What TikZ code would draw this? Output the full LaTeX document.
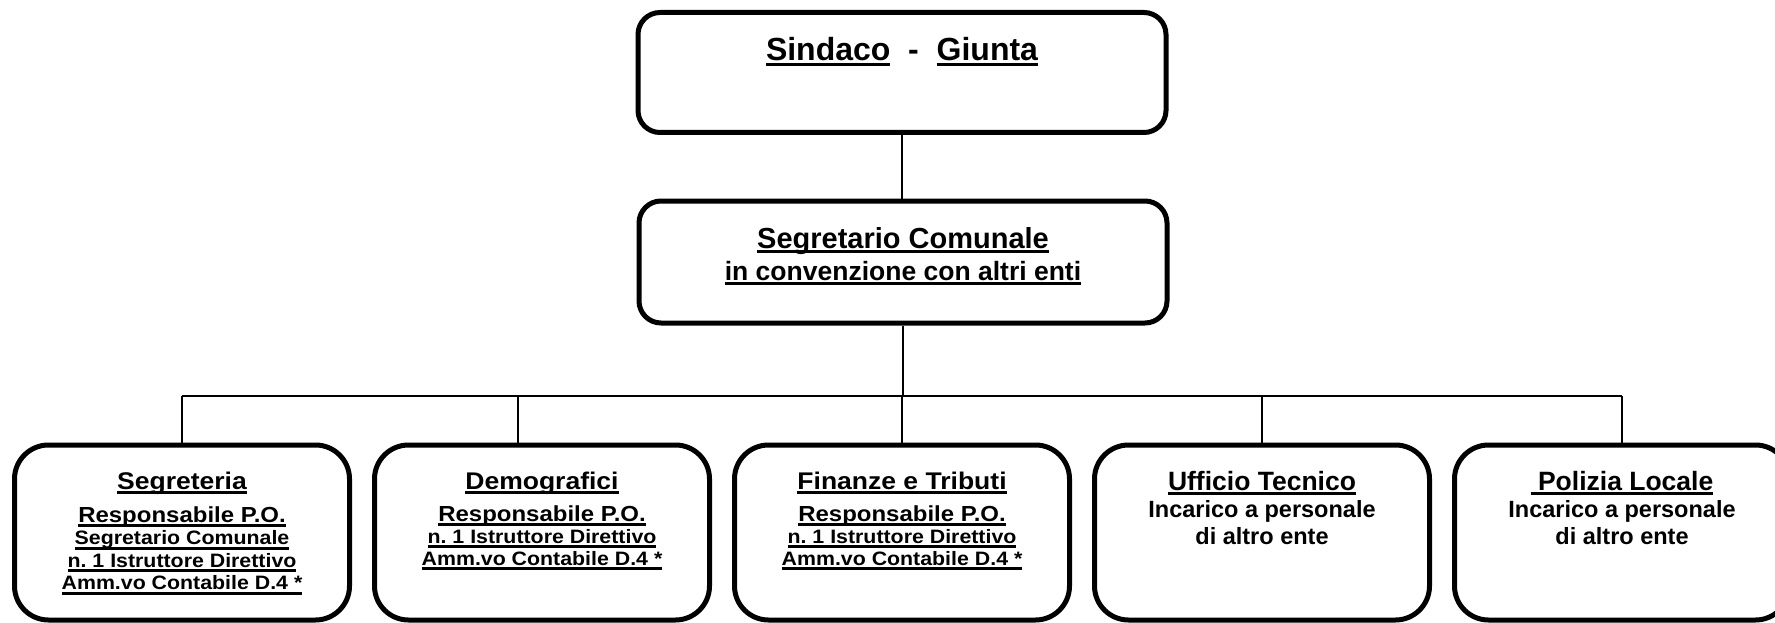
\documentclass[tikz,border=0pt]{standalone}
\usepackage{fontspec}
\setmainfont{Liberation Sans}
\newfontfamily\unitfont[FakeStretch=1.1]{Liberation Sans}
\frenchspacing

% underline with a thick rule, as in the chart
\newcommand\undl[1]{\setbox0\hbox{#1}\rlap{\rule[-5pt]{\wd0}{3pt}}\box0}
\newcommand\fs[1]{\fontsize{#1}{#1}\selectfont}

\tikzset{every picture/.style={line width=1.6pt}}

\begin{document}
\lineskiplimit=-100pt
\begin{tikzpicture}[x=1pt, y=-1pt,
    orgbox/.style={draw, line width=5pt, rounded corners=22pt, inner sep=0pt},
    unitbox/.style={orgbox, rounded corners=34pt, minimum width=335pt, minimum height=175pt},
    boxtxt/.style={align=center, inner sep=0pt, anchor=north, font=\unitfont\bfseries\fontsize{19.4}{22}\selectfont},
  ]
    \useasboundingbox (0,0) rectangle (1775,623);

    % Top: Sindaco - Giunta
    \node [orgbox, minimum width=528pt, minimum height=120pt] (giunta) at (902,72.5) {};
    \node [anchor=base, inner sep=0pt, font=\bfseries\fs{32}] (giuntatxt) at (giunta.north |- 0,61)
          {\undl{Sindaco}\ \ -\ \ \undl{Giunta}};

    % Segretario Comunale
    \node [orgbox, minimum width=528pt, minimum height=122pt] (segcom) at (903,262) {};
    \node [boxtxt, font=\bfseries\fontsize{26.5}{32}\selectfont] (segcomtxt) at ([yshift=-28pt]segcom.north)
          {{\fs{29}\undl{Segretario Comunale}}\\ \undl{in convenzione con altri enti}};

    % Units
    \node [unitbox] (segr)    at ( 182,532.5) {};
    \node [unitbox] (demo)    at ( 542,532.5) {};
    \node [unitbox] (finanze) at ( 902,532.5) {};
    \node [unitbox] (tecnico) at (1262,532.5) {};
    \node [unitbox] (polizia) at (1622,532.5) {};

    \node [boxtxt, font=\unitfont\bfseries\fontsize{19.4}{22.5}\selectfont] (segrtxt) at ([yshift=-28.4pt]segr.north)
          {{\fs{24.1}\undl{Segreteria}}\\[10.5pt]
           {\fs{21.8}\undl{Responsabile P.O.}}\\
           \undl{Segretario Comunale}\\
           \undl{n. 1 Istruttore Direttivo}\\
           \undl{Amm.vo Contabile D.4 *}};
    \node [boxtxt] (demotxt) at ([yshift=-28.4pt]demo.north)
          {{\fs{24.1}\undl{Demografici}}\\[10pt]
           {\fs{21.8}\undl{Responsabile P.O.}}\\
           \undl{n. 1 Istruttore Direttivo}\\
           \undl{Amm.vo Contabile D.4 *}};
    \node [boxtxt] (finanzetxt) at ([yshift=-28.4pt]finanze.north)
          {{\fs{24.1}\undl{Finanze e Tributi}}\\[10pt]
           {\fs{21.8}\undl{Responsabile P.O.}}\\
           \undl{n. 1 Istruttore Direttivo}\\
           \undl{Amm.vo Contabile D.4 *}};
    \node [boxtxt, font=\bfseries\fontsize{23.5}{27}\selectfont] (tecnicotxt) at ([yshift=-27.5pt]tecnico.north)
          {{\fs{26.5}\undl{Ufficio Tecnico}}\\
           Incarico a personale\\
           di altro ente};
    \node [boxtxt, font=\bfseries\fontsize{23.5}{27}\selectfont] (poliziatxt) at ([yshift=-27.5pt]polizia.north)
          {{\fs{26.5}\undl{\ Polizia Locale}}\\
           Incarico a personale\\
           di altro ente};

    % Lines
    \coordinate (busw)  at ( 182,396);
    \coordinate (buse)  at (1622,396);
    \coordinate (drop2) at ( 518,396);

    \draw (giunta.south) -- (giunta.south |- segcom.north);
    \draw (segcom.south) -- (segcom.south |- busw);
    \draw (busw) -- (buse);
    \draw (busw) -- (segr.north);
    \draw (drop2) -- (drop2 |- demo.north);
    \draw (finanze.north |- busw) -- (finanze.north);
    \draw (tecnico.north |- busw) -- (tecnico.north);
    \draw (buse) -- (polizia.north);

\end{tikzpicture}
\end{document}
